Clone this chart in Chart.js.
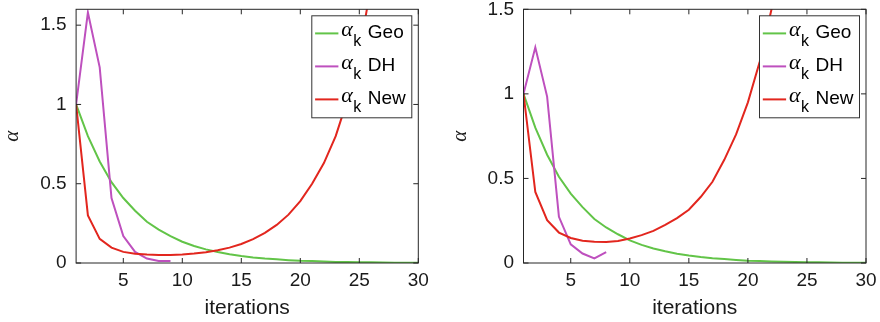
<!DOCTYPE html>
<html>
<head>
<meta charset="utf-8">
<script src="https://cdn.jsdelivr.net/npm/chart.js@4.4.0/dist/chart.umd.min.js"></script>
<style>
  body { margin: 0; background: #fff; }
  .wrap { display: flex; }
  .panel { width: 440px; height: 322px; }
</style>
</head>
<body>
<div class="wrap">
  <div class="panel"><canvas id="leftChart" width="440" height="322"></canvas></div>
  <div class="panel"><canvas id="rightChart" width="440" height="322"></canvas></div>
</div>
<script>
// values
const iterations = [1, 2, 3, 4, 5, 6, 7, 8, 9, 10, 11, 12, 13, 14, 15, 16, 17, 18, 19, 20, 21, 22, 23, 24, 25, 26, 27, 28, 29, 30];
const geoValues = [1, 0.8, 0.64, 0.51, 0.41, 0.33, 0.26, 0.21, 0.17, 0.134, 0.107, 0.086, 0.069, 0.055, 0.044, 0.035, 0.028, 0.023, 0.018, 0.014, 0.012, 0.009, 0.007, 0.006, 0.005, 0.004, 0.003, 0.002, 0.002, 0.002];
const dhLeft = [1, 1.58, 1.234, 0.41, 0.17, 0.07, 0.028, 0.013, 0.012];
const newLeft = [1, 0.30, 0.152, 0.097, 0.07, 0.058, 0.053, 0.05, 0.05, 0.054, 0.06, 0.068, 0.08, 0.097, 0.12, 0.15, 0.19, 0.24, 0.305, 0.39, 0.50, 0.63, 0.80, 1.03, 1.33, 1.75, 2.3, 3.0, 3.9, 5.1];
const dhRight = [1, 1.275, 0.984, 0.273, 0.11, 0.056, 0.027, 0.065];
const newRight = [1, 0.42, 0.253, 0.18, 0.148, 0.132, 0.125, 0.124, 0.13, 0.145, 0.165, 0.19, 0.225, 0.265, 0.315, 0.39, 0.48, 0.61, 0.76, 0.95, 1.19, 1.5, 1.9, 2.4, 3.0, 3.8, 4.8, 6.0, 7.6, 9.5];
const seriesNames = ['Geo', 'DH', 'New'];
const xTicks = [5, 10, 15, 20, 25, 30];
const yTicksLeft = [0, 0.5, 1, 1.5];
const yTicksRight = [0, 0.5, 1, 1.5];

const colors = ['rgb(98,196,72)', 'rgb(190,80,190)', 'rgb(226,38,30)'];
const sansFont = '"Liberation Sans", Arial, sans-serif';
const serifFont = '"Liberation Serif", "Times New Roman", serif';

function toPoints(values) {
    return values.map((v, i) => ({ x: iterations[i], y: v }));
}

// matlab style box, inward ticks and legend
const matlabAxes = {
    id: 'matlabAxes',
    afterDatasetsDraw(chart) {
        const ctx = chart.ctx;
        const area = chart.chartArea;
        const xs = chart.scales.x, ys = chart.scales.y;
        ctx.save();
        ctx.strokeStyle = '#262626';
        ctx.lineWidth = 1;
        ctx.beginPath();
        xs.ticks.forEach(t => {
            const px = xs.getPixelForValue(t.value);
            ctx.moveTo(px, area.bottom); ctx.lineTo(px, area.bottom - 5);
            ctx.moveTo(px, area.top); ctx.lineTo(px, area.top + 5);
        });
        ys.ticks.forEach(t => {
            const py = ys.getPixelForValue(t.value);
            ctx.moveTo(area.left, py); ctx.lineTo(area.left + 5, py);
            ctx.moveTo(area.right, py); ctx.lineTo(area.right - 5, py);
        });
        ctx.stroke();
        ctx.strokeRect(area.left, area.top, area.right - area.left, area.bottom - area.top);

        // legend box
        const w = 100, h = 102;
        const x0 = area.right - 6.5 - w, y0 = area.top + 6.5;
        ctx.fillStyle = '#fff';
        ctx.fillRect(x0, y0, w, h);
        ctx.strokeStyle = '#333';
        ctx.strokeRect(x0, y0, w, h);
        chart.data.datasets.forEach((ds, i) => {
            const base = y0 + 22.6 + i * 33;
            ctx.strokeStyle = ds.borderColor;
            ctx.lineWidth = 2;
            ctx.beginPath();
            ctx.moveTo(x0 + 3.3, base - 5);
            ctx.lineTo(x0 + 26.6, base - 5);
            ctx.stroke();
            ctx.fillStyle = '#000';
            ctx.textBaseline = 'alphabetic';
            ctx.textAlign = 'left';
            ctx.font = 'italic 22px ' + serifFont;
            ctx.fillText('α', x0 + 29.5, base - 2);
            ctx.font = '16px ' + sansFont;
            ctx.fillText('k', x0 + 41.5, base + 8);
            ctx.font = '19px ' + sansFont;
            ctx.fillText(ds.label, x0 + 56, base);
        });
        ctx.restore();
    }
};

function makeChart(canvasId, dhValues, newValues, yMax, yTicks, axisWidth, padRight, titlePad) {
    const ctx = document.getElementById(canvasId).getContext('2d');
    return new Chart(ctx, {
        type: 'line',
        data: {
            datasets: [
                { label: seriesNames[0], data: toPoints(geoValues), borderColor: colors[0], order: 2 },
                { label: seriesNames[1], data: toPoints(dhValues), borderColor: colors[1], order: 1 },
                { label: seriesNames[2], data: toPoints(newValues), borderColor: colors[2], order: 0 }
            ]
        },
        options: {
            responsive: false,
            animation: false,
            layout: { padding: { top: 9.3, right: padRight, bottom: 0, left: 0 } },
            elements: {
                line: { borderWidth: 2, tension: 0 },
                point: { radius: 0 }
            },
            plugins: { legend: { display: false }, tooltip: { enabled: false } },
            scales: {
                x: {
                    type: 'linear',
                    min: 1,
                    max: 30,
                    grid: { display: false, drawTicks: false },
                    border: { display: false },
                    ticks: {
                        padding: 6.5,
                        color: '#1a1a1a',
                        font: { family: sansFont, size: 19 },
                        callback: v => String(v)
                    },
                    title: {
                        display: true,
                        text: 'iterations',
                        color: '#1a1a1a',
                        font: { family: sansFont, size: 21 },
                        padding: { top: 0, bottom: 1 }
                    },
                    afterBuildTicks: s => { s.ticks = xTicks.map(v => ({ value: v })); },
                    afterFit: s => {
                        s.height = 59;
                        s.paddingLeft = 0; s.paddingRight = 0;
                    }
                },
                y: {
                    min: 0,
                    max: yMax,
                    grid: { display: false, drawTicks: false },
                    border: { display: false },
                    ticks: {
                        padding: 9.5,
                        color: '#1a1a1a',
                        font: { family: sansFont, size: 19 },
                        callback: v => String(v)
                    },
                    title: {
                        display: true,
                        text: 'α',
                        color: '#1a1a1a',
                        font: { family: serifFont, size: 21, style: 'italic' },
                        padding: { top: titlePad, bottom: 0 }
                    },
                    afterBuildTicks: s => { s.ticks = yTicks.map(v => ({ value: v })); },
                    afterFit: s => {
                        s.width = axisWidth;
                        s.paddingTop = 0; s.paddingBottom = 0;
                    }
                }
            }
        },
        plugins: [matlabAxes]
    });
}

makeChart('leftChart', dhLeft, newLeft, 1.6, yTicksLeft, 76.1, 21.7, 0);
makeChart('rightChart', dhRight, newRight, 1.5, yTicksRight, 83.5, 14, 8);
</script>
</body>
</html>
